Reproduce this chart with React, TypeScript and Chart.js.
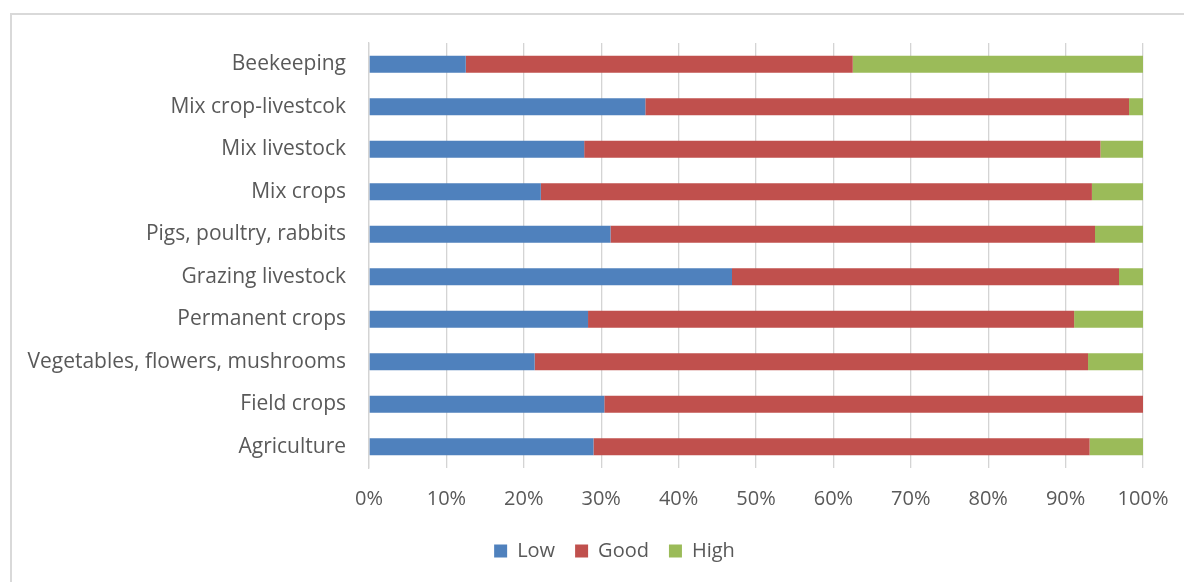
import React, { useEffect, useRef } from "react";
import { Chart, registerables } from "chart.js";

Chart.register(...registerables);

const categories = [
  "Beekeeping",
  "Mix crop-livestcok",
  "Mix livestock",
  "Mix crops",
  "Pigs, poultry, rabbits",
  "Grazing livestock",
  "Permanent crops",
  "Vegetables, flowers, mushrooms",
  "Field crops",
  "Agriculture",
];

const lowValues = [12.5, 35.7, 27.8, 22.2, 31.2, 46.9, 28.3, 21.4, 30.4, 29.0];
const goodValues = [50.0, 62.5, 66.7, 71.2, 62.6, 50.0, 62.8, 71.5, 69.6, 64.1];
const highValues = [37.5, 1.8, 5.5, 6.6, 6.2, 3.1, 8.9, 7.1, 0.0, 6.9];

const seriesNames = ["Low", "Good", "High"];
const seriesColors = ["#4F81BD", "#C0504D", "#9BBB59"];
const xTicks = [0, 10, 20, 30, 40, 50, 60, 70, 80, 90, 100];

const FONT = "'Open Sans', 'Liberation Sans', sans-serif";

const legendShift = {
  id: "legendShift",
  afterLayout(chart: any) {
    const l = chart.legend;
    if (l) {
      l.left += 43;
      l.right += 43;
    }
  },
};

export default function App() {
  const canvasRef = useRef<HTMLCanvasElement | null>(null);

  useEffect(() => {
    if (!canvasRef.current) return;
    const seriesValues = [lowValues, goodValues, highValues];
    const chart = new Chart(canvasRef.current, {
      type: "bar",
      data: {
        labels: categories,
        datasets: seriesNames.map((name, i) => ({
          label: name,
          data: seriesValues[i],
          backgroundColor: seriesColors[i],
          borderWidth: 0,
          barPercentage: 0.4,
          categoryPercentage: 1,
        })),
      },
      plugins: [legendShift],
      options: {
        indexAxis: "y",
        animation: false,
        responsive: false,
        maintainAspectRatio: false,
        layout: { padding: { top: 43, right: 41, left: 0, bottom: 11 } },
        plugins: {
          tooltip: { enabled: false },
          legend: {
            position: "bottom",
            labels: {
              font: { family: FONT, size: 20 },
              color: "#595959",
              boxWidth: 13,
              boxHeight: 13,
              padding: 20,
            },
          },
        },
        scales: {
          x: {
            stacked: true,
            min: 0,
            max: 100,
            afterBuildTicks: (axis: any) => {
              axis.ticks = xTicks.map((v) => ({ value: v }));
            },
            ticks: {
              callback: (v: any) => v + "%",
              font: { family: FONT, size: 20 },
              color: "#595959",
              padding: 19,
              maxRotation: 0,
            },
            grid: { color: "#d4d4d4", lineWidth: 1.3, drawTicks: false },
            border: { display: false },
            afterFit: (s: any) => {
              s.height = 53;
              s.paddingLeft = 0;
              s.paddingRight = 0;
            },
          },
          y: {
            stacked: true,
            ticks: {
              font: { family: FONT, size: 21 },
              color: "#595959",
              padding: 23,
            },
            grid: { display: false, drawTicks: false },
            border: { display: true, color: "#d4d4d4", width: 1.3 },
            afterFit: (s: any) => {
              s.width = 369;
            },
          },
        },
      },
    });
    return () => chart.destroy();
  }, []);

  return (
    <div style={{ position: "fixed", left: 0, top: 0, width: 1184, height: 582, background: "#fff" }}>
      <div
        style={{
          position: "absolute",
          left: 10,
          top: 13,
          right: -5,
          bottom: -5,
          borderTop: "2px solid #d9d9d9",
          borderLeft: "2px solid #d9d9d9",
        }}
      />
      <canvas ref={canvasRef} width={1184} height={582} style={{ position: "absolute", left: 0, top: 0 }} />
    </div>
  );
}
